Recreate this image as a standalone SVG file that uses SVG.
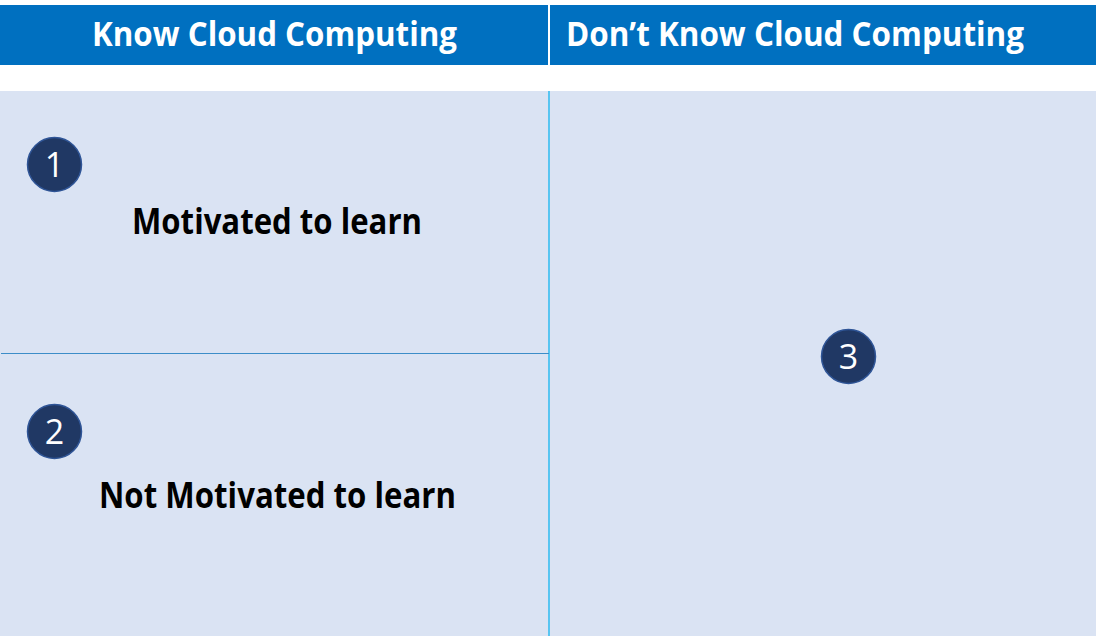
<svg xmlns="http://www.w3.org/2000/svg" width="1096" height="636" viewBox="0 0 1096 636">
<style>
.hdr{fill:#0070C0}
.hdrtxt{font-family:"Open Sans","Noto Sans",sans-serif;font-weight:bold;font-size:34px;fill:#FFFFFF}
.lbl{font-family:"Open Sans","Noto Sans",sans-serif;font-weight:bold;font-size:36px;fill:#000000}
.badge{fill:#203864;stroke:#2F5597;stroke-width:1.5}
.num{font-family:"Open Sans","Noto Sans",sans-serif;font-size:34px;fill:#FFFFFF;text-anchor:middle}
</style>
<rect x="0" y="0" width="1096" height="636" fill="#FFFFFF"/>
<g id="header-know">
<rect class="hdr" x="0" y="5" width="548" height="60"/>
<text class="hdrtxt" x="92" y="46" textLength="365" lengthAdjust="spacingAndGlyphs">Know Cloud Computing</text>
</g>
<g id="header-dont-know">
<rect class="hdr" x="550" y="5" width="546" height="60"/>
<text class="hdrtxt" x="566" y="46" textLength="458" lengthAdjust="spacingAndGlyphs">Don’t Know Cloud Computing</text>
</g>
<g id="background">
<rect x="0" y="91" width="1096" height="545" fill="#DAE3F3"/>
</g>
<g id="connectors">
<line x1="549" y1="91" x2="549" y2="636" stroke="#00B0F0" stroke-width="1.2"/>
<line x1="1" y1="353.5" x2="549" y2="353.5" stroke="#3C8DC8" stroke-width="1"/>
</g>
<g id="quadrant-1">
<circle class="badge" cx="54.5" cy="164.5" r="27"/>
<text class="num" x="54.5" y="177">1</text>
<text class="lbl" x="132" y="234" textLength="290" lengthAdjust="spacingAndGlyphs">Motivated to learn</text>
</g>
<g id="quadrant-2">
<circle class="badge" cx="54.5" cy="431.5" r="27"/>
<text class="num" x="54.5" y="444">2</text>
<text class="lbl" x="99" y="508" textLength="357" lengthAdjust="spacingAndGlyphs">Not Motivated to learn</text>
</g>
<g id="quadrant-3">
<circle class="badge" cx="848.5" cy="356.5" r="27"/>
<text class="num" x="848.5" y="369">3</text>
</g>
</svg>
